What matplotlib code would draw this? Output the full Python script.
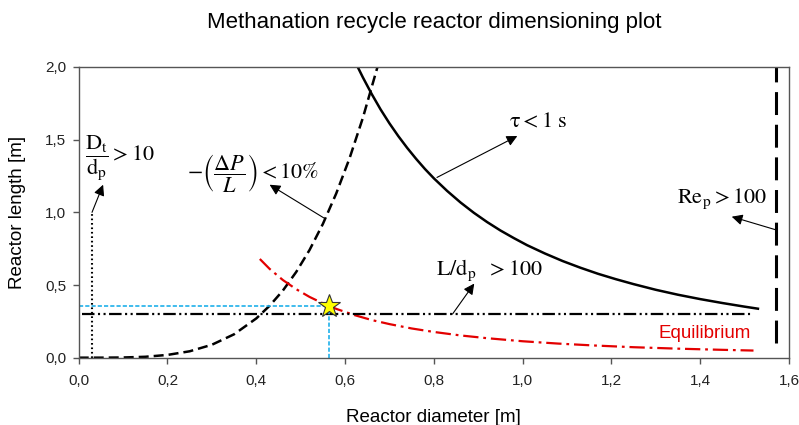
#!/usr/bin/env python3

##### Methanation recycle reactor dimensioning plot
import numpy as np
import matplotlib
matplotlib.use('Agg')
import matplotlib.pyplot as plt
from matplotlib.ticker import FuncFormatter

##### Data
# pressure drop limit -(dP/L) < 10%
dp_x = [0.0, 0.05, 0.1, 0.15, 0.2, 0.25, 0.3, 0.35, 0.4, 0.43, 0.46, 0.49,
        0.52, 0.55, 0.58, 0.61, 0.64, 0.673]
dp_y = [0.0, 0.0001, 0.0013, 0.0062, 0.019, 0.044, 0.089, 0.161, 0.27, 0.357,
        0.462, 0.590, 0.741, 0.920, 1.129, 1.371, 1.649, 2.0]
# residence time limit tau < 1 s
tau_x = [0.628, 0.64, 0.66, 0.68, 0.70, 0.72, 0.74, 0.76, 0.78, 0.80, 0.83,
         0.86, 0.89, 0.92, 0.95, 0.98, 1.01, 1.05, 1.09, 1.13, 1.17, 1.21,
         1.25, 1.30, 1.35, 1.40, 1.45, 1.50, 1.53]
tau_y = [2.003, 1.929, 1.814, 1.708, 1.612, 1.524, 1.443, 1.368, 1.298, 1.234,
         1.147, 1.068, 0.997, 0.933, 0.875, 0.823, 0.774, 0.717, 0.665, 0.619,
         0.577, 0.540, 0.506, 0.467, 0.433, 0.403, 0.376, 0.351, 0.337]
# equilibrium curve
eq_x = [0.408, 0.43, 0.46, 0.49, 0.52, 0.55, 0.58, 0.62, 0.66, 0.70, 0.75,
        0.80, 0.86, 0.92, 1.00, 1.08, 1.16, 1.25, 1.35, 1.45, 1.52]
eq_y = [0.679, 0.611, 0.534, 0.471, 0.418, 0.374, 0.336, 0.294, 0.259, 0.231,
        0.201, 0.177, 0.153, 0.134, 0.113, 0.097, 0.084, 0.072, 0.062, 0.054,
        0.049]
# L/dp > 100
ld_x = [0.007, 1.52]
ld_y = [0.30, 0.30]
# Dt/dp > 10
dt_x = [0.031, 0.031]
dt_y = [0.0, 1.0]
# Re_p > 100
re_x = [1.57, 1.57]
re_y = [0.10, 2.0]
# chosen design point
pt_x = 0.563
pt_y = 0.356

x_ticks = [0.0, 0.2, 0.4, 0.6, 0.8, 1.0, 1.2, 1.4, 1.6]
y_ticks = [0.0, 0.5, 1.0, 1.5, 2.0]

##### Style
plt.rcParams['font.family'] = ['Liberation Sans', 'DejaVu Sans']
plt.rcParams['mathtext.fontset'] = 'stix'
plt.rcParams['lines.scale_dashes'] = False

fig = plt.figure(figsize=(7.99, 4.25), dpi=100)
ax = fig.add_axes([0.0985, 0.1584, 0.889, 0.684])

##### Curves
ax.plot(dp_x, dp_y, color='black', lw=1.8, dashes=(7.2, 3.6))
ax.plot(tau_x, tau_y, color='black', lw=1.8)
ax.plot(eq_x, eq_y, color='#e30000', lw=1.6, dashes=(11, 3.5, 2, 3.5))
ax.plot(ld_x, ld_y, color='black', lw=1.6, dashes=(9, 2.5, 1.5, 2.5, 1.5, 2.5))
ax.plot(dt_x, dt_y, color='black', lw=1.5, dashes=(1.2, 2.0))
ax.plot(re_x, re_y, color='black', lw=2.2, dashes=(16.5, 7))

# design point guides
ax.plot([0, pt_x], [pt_y, pt_y], color='#1fb0ea', lw=1.2, dashes=(3, 1.5))
ax.plot([pt_x, pt_x], [0, pt_y], color='#1fb0ea', lw=1.2, dashes=(3, 1.5))
ax.plot([pt_x], [pt_y], marker='*', ms=17, mfc='#ffff00', mec='#333333',
        mew=0.8, zorder=5, clip_on=False)

##### Labels and arrows
arr = dict(arrowstyle='-|>', lw=0.8, color='black', mutation_scale=16,
           shrinkA=0, shrinkB=0)
ax.annotate('', xy=(0.055, 1.19), xytext=(0.03, 1.0), arrowprops=arr)
ax.annotate('', xy=(0.43, 1.19), xytext=(0.553, 0.96), arrowprops=arr)
ax.annotate('', xy=(0.988, 1.525), xytext=(0.807, 1.24), arrowprops=arr)
ax.annotate('', xy=(1.471, 0.97), xytext=(1.57, 0.88), arrowprops=arr)
ax.annotate('', xy=(0.891, 0.51), xytext=(0.842, 0.30), arrowprops=arr)

ax.text(0.015, 1.37, r'$\dfrac{\mathrm{D_t}}{\mathrm{d_p}} > 10$', fontsize=16,
        ha='left', va='center')
ax.text(0.243, 1.27, r'$-\left(\dfrac{\Delta P}{L}\right) < 10\%$', fontsize=16,
        ha='left', va='center')
ax.text(0.969, 1.62, r'$\mathrm{\tau} < 1\ \mathrm{s}$', fontsize=16,
        ha='left', va='center')
ax.text(1.347, 1.09, r'$\mathrm{Re_p} > 100$', fontsize=16,
        ha='left', va='center')
ax.text(0.805, 0.60, r'$\mathrm{L/d_p}\ \ > 100$', fontsize=16,
        ha='left', va='center')
ax.text(1.515, 0.163, 'Equilibrium', color='#e30000', fontsize=13.5,
        ha='right', va='center')

##### Axes
ax.set_xlim(0, 1.6)
ax.set_ylim(0, 2.0)
ax.set_xticks(x_ticks)
ax.set_yticks(y_ticks)
comma = FuncFormatter(lambda v, p: ('%.1f' % v).replace('.', ','))
ax.xaxis.set_major_formatter(comma)
ax.yaxis.set_major_formatter(comma)
for s in ax.spines.values():
    s.set_color('#555555')
    s.set_linewidth(1.0)
ax.tick_params(direction='out', length=4, width=1, color='#555555',
               labelsize=11, labelcolor='#222222')
ax.tick_params(axis='x', pad=8)
ax.tick_params(axis='y', pad=5)

fig.text(0.543, 1 - 421.7 / 425, 'Reactor diameter [m]', fontsize=13.5,
         ha='center', va='baseline')
fig.text(17.5 / 799, 0.5003, 'Reactor length [m]', fontsize=13.5,
         ha='center', va='center', rotation=90)
fig.text(0.543, 1 - 27.7 / 425, 'Methanation recycle reactor dimensioning plot',
         fontsize=16, ha='center', va='baseline')

plt.savefig('out.png', dpi=100)
plt.close()
